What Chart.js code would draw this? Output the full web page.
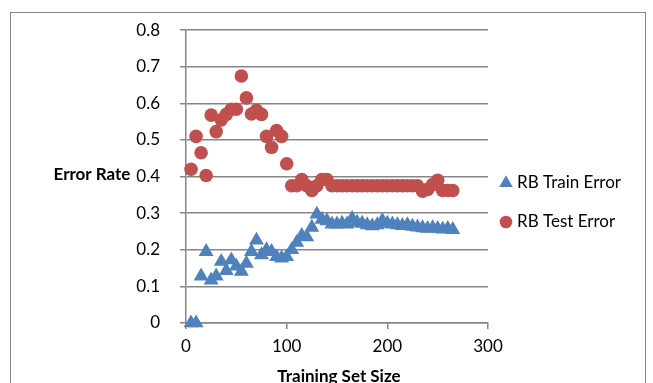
<!DOCTYPE html>
<html>
<head>
<meta charset="utf-8">
<script src="https://cdn.jsdelivr.net/npm/chart.js@4.4.1/dist/chart.umd.min.js"></script>
<style>
  html, body { margin: 0; padding: 0; background: #fff; overflow: hidden; }
  #wrap { position: relative; width: 653px; height: 383px; }
</style>
</head>
<body>
<div id="wrap"><canvas id="chart" width="653" height="383"></canvas></div>
<script>
// Training set sizes (x) shared by both series
const trainingSizes = [
  5, 10, 15, 20, 25, 30, 35, 40, 45, 50, 55, 60, 65, 70, 75, 80, 85, 90, 95, 100,
  105, 110, 115, 120, 125, 130, 135, 140, 145, 150, 155, 160, 165, 170, 175, 180,
  185, 190, 195, 200, 205, 210, 215, 220, 225, 230, 235, 240, 245, 250, 255, 260, 265
];

const trainError = [
  0, 0, 0.128, 0.195, 0.117, 0.128, 0.168, 0.143, 0.172, 0.155, 0.141, 0.163, 0.195, 0.226,
  0.186, 0.2, 0.195, 0.181, 0.177, 0.181, 0.2, 0.22, 0.239, 0.235, 0.261, 0.297, 0.283,
  0.279, 0.27, 0.27, 0.272, 0.27, 0.285, 0.275, 0.272, 0.268, 0.265, 0.268, 0.28, 0.272,
  0.27, 0.268, 0.266, 0.268, 0.264, 0.262, 0.26, 0.258, 0.26, 0.258, 0.256, 0.258, 0.255
];

const testError = [
  0.42, 0.51, 0.465, 0.403, 0.568, 0.523, 0.555, 0.57, 0.584, 0.584, 0.675, 0.615, 0.571,
  0.581, 0.57, 0.51, 0.48, 0.526, 0.51, 0.435, 0.375, 0.375, 0.392, 0.375, 0.362, 0.375,
  0.392, 0.392, 0.375, 0.375, 0.375, 0.375, 0.375, 0.375, 0.375, 0.375, 0.375, 0.375,
  0.375, 0.375, 0.375, 0.375, 0.375, 0.375, 0.375, 0.375, 0.36, 0.365, 0.378, 0.39,
  0.362, 0.362, 0.362
];

const seriesLabels = ['RB Train Error', 'RB Test Error'];
const xTitle = 'Training Set Size';
const yTitle = 'Error Rate';

const BLUE = '#4F81BD';
const RED = '#C0504D';
const GRID = '#868686';
const FONT = 'Lato, "Liberation Sans", sans-serif';

const toPoints = ys => ys.map((y, i) => ({ x: trainingSizes[i], y }));

// frame, axis titles and legend, drawn straight on the canvas
const decorations = {
  id: 'decorations',
  beforeDraw(chart) {
    const ctx = chart.ctx;
    ctx.save();
    ctx.strokeStyle = GRID;
    ctx.lineWidth = 1;
    ctx.strokeRect(10.5, 12.5, 635, 420);
    ctx.restore();
  },
  afterDraw(chart) {
    const ctx = chart.ctx;
    ctx.save();
    ctx.fillStyle = '#000';
    ctx.font = 'bold 17px ' + FONT;
    ctx.textBaseline = 'middle';
    ctx.textAlign = 'center';
    ctx.fillText(yTitle, 92, 175);
    ctx.textBaseline = 'alphabetic';
    ctx.fillText(xTitle, 339, 382);

    // legend
    ctx.font = '17px ' + FONT;
    ctx.textAlign = 'left';
    ctx.textBaseline = 'middle';
    const lx = 506;
    const rows = [183, 222];
    ctx.fillStyle = BLUE;
    ctx.beginPath();
    const r = 7.8;
    ctx.moveTo(lx, rows[0] - r);
    ctx.lineTo(lx + r * Math.sin(2 * Math.PI / 3), rows[0] + r / 2);
    ctx.lineTo(lx - r * Math.sin(2 * Math.PI / 3), rows[0] + r / 2);
    ctx.closePath();
    ctx.fill();
    ctx.fillStyle = RED;
    ctx.beginPath();
    ctx.arc(lx, rows[1], 6.3, 0, Math.PI * 2);
    ctx.fill();
    ctx.fillStyle = '#000';
    ctx.fillText(seriesLabels[0], 517, rows[0]);
    ctx.fillText(seriesLabels[1], 517, rows[1]);
    ctx.restore();
  }
};

new Chart(document.getElementById('chart'), {
  type: 'scatter',
  data: {
    datasets: [
      {
        label: seriesLabels[1],
        data: toPoints(testError),
        pointStyle: 'circle',
        pointRadius: 6.8,
        backgroundColor: RED,
        borderColor: RED,
        borderWidth: 0,
        clip: false,
      },
      {
        label: seriesLabels[0],
        data: toPoints(trainError),
        pointStyle: 'triangle',
        pointRadius: 8.6,
        backgroundColor: BLUE,
        borderColor: BLUE,
        borderWidth: 0,
        clip: false,
      },
    ],
  },
  options: {
    responsive: false,
    animation: false,
    layout: { padding: { left: 0, top: 23, right: 165, bottom: 0 } },
    scales: {
      x: {
        type: 'linear',
        min: 0,
        max: 300,
        afterFit: s => { s.height = 60; },
        ticks: { stepSize: 100, color: '#000', font: { size: 17, family: FONT }, padding: 7, maxRotation: 0 },
        grid: { drawOnChartArea: false, color: GRID, tickLength: 6, lineWidth: 1.5 },
        border: { color: GRID, width: 1.5 },
      },
      y: {
        min: 0,
        max: 0.8,
        afterFit: s => { s.width = 186; },
        ticks: {
          stepSize: 0.1,
          color: '#000',
          font: { size: 17, family: FONT },
          padding: 20,
          callback: v => (Math.round(v * 10) / 10).toString(),
        },
        grid: { color: GRID, tickLength: 6, lineWidth: 1.5 },
        border: { color: GRID, width: 1.5 },
      },
    },
    plugins: {
      legend: { display: false },
      tooltip: { enabled: false },
    },
  },
  plugins: [decorations],
});
</script>
</body>
</html>
